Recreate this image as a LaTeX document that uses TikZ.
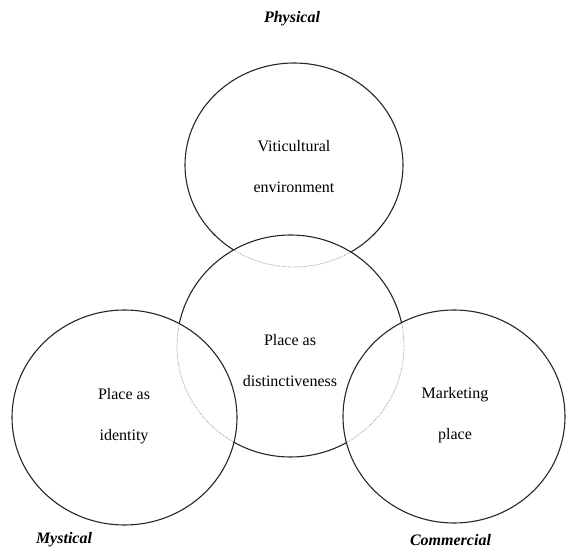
\documentclass[tikz,border=0pt]{standalone}
\usepackage{fontspec}
\setmainfont{Liberation Serif}
\tikzset{
  ring/.style={black!85, line width=1.1pt},
  faintring/.style={gray!75, line width=0.8pt, densely dotted},
  intext/.style={align=center, font=\fontsize{16}{41}\selectfont},
  corner/.style={font=\fontsize{16}{18}\selectfont\bfseries\itshape}
}
% outlines of the four circles
\newcommand{\physpath}{(294,165) ellipse [x radius=109pt, y radius=102pt]}
\newcommand{\placepath}{(290.5,346) ellipse [x radius=113.5pt, y radius=111pt]}
\newcommand{\mystpath}{(124.5,417.5) ellipse [x radius=112.5pt, y radius=107.5pt]}
\newcommand{\commpath}{(454,416.5) ellipse [x radius=111pt, y radius=106.5pt]}
\begin{document}
\begin{tikzpicture}[x=1pt, y=-1pt]
  \useasboundingbox (0,0) rectangle (566,548);
  % top circle, faint where it lies inside the middle one
  \begin{scope}[even odd rule]
    \clip (-10,-10) rectangle (580,560) \placepath;
    \draw [ring] \physpath;
  \end{scope}
  \begin{scope}
    \clip \placepath;
    \draw [faintring] \physpath;
  \end{scope}
  % middle circle, faint inside the two lower ones
  \begin{scope}[even odd rule]
    \clip (-10,-10) rectangle (580,560) \mystpath \commpath;
    \draw [ring] \placepath;
  \end{scope}
  \begin{scope}
    \clip \mystpath;
    \draw [faintring] \placepath;
  \end{scope}
  \begin{scope}
    \clip \commpath;
    \draw [faintring] \placepath;
  \end{scope}
  \draw [ring] \mystpath;
  \draw [ring] \commpath;

  \node [intext] (vitic) at (294,166.5) {Viticultural\\environment};
  \node [intext] (distinct) at (290,361) {Place as\\distinctiveness};
  \node [intext] (identity) at (124,416) {Place as\\identity};
  \node [intext] (market) at (455,415.5) {Marketing\\place};

  \node [corner] (physical) at (292,19) {Physical};
  \node [corner] (mystical) at (64,540) {Mystical};
  \node [corner] (commercial) at (450.5,540) {Commercial};
\end{tikzpicture}
\end{document}
